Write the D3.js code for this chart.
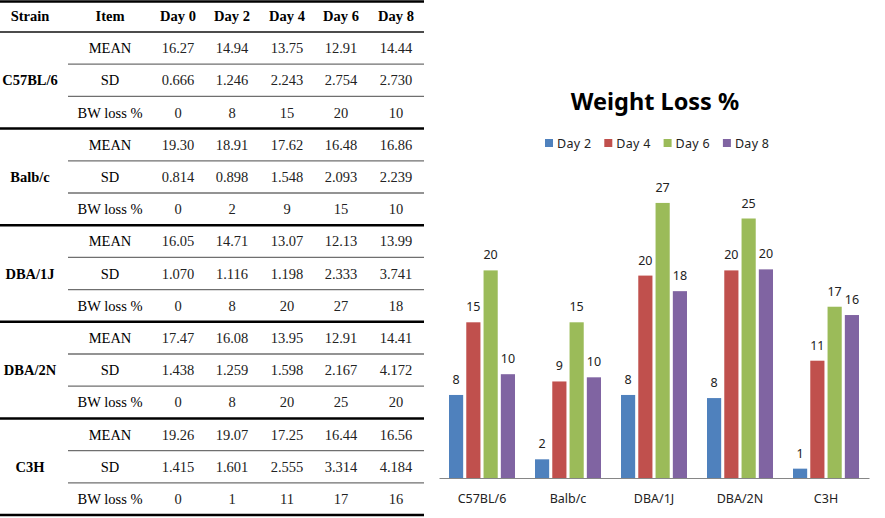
<!DOCTYPE html>
<html><head><meta charset="utf-8">
<script src="https://cdn.jsdelivr.net/npm/d3@7"></script>
<style>body{margin:0;background:#fff}svg{display:block}</style>
</head><body>
<svg id="c" width="885" height="518"></svg>
<script>
// ---------- data ----------
const strains = ["C57BL/6", "Balb/c", "DBA/1J", "DBA/2N", "C3H"];
const tableDays = ["Day 0", "Day 2", "Day 4", "Day 6", "Day 8"];
const items = ["MEAN", "SD", "BW loss %"];
const meanVals = [
  ["16.27","14.94","13.75","12.91","14.44"],
  ["19.30","18.91","17.62","16.48","16.86"],
  ["16.05","14.71","13.07","12.13","13.99"],
  ["17.47","16.08","13.95","12.91","14.41"],
  ["19.26","19.07","17.25","16.44","16.56"]
];
const sdVals = [
  ["0.666","1.246","2.243","2.754","2.730"],
  ["0.814","0.898","1.548","2.093","2.239"],
  ["1.070","1.116","1.198","2.333","3.741"],
  ["1.438","1.259","1.598","2.167","4.172"],
  ["1.415","1.601","2.555","3.314","4.184"]
];
const lossVals = [
  ["0","8","15","20","10"],
  ["0","2","9","15","10"],
  ["0","8","20","27","18"],
  ["0","8","20","25","20"],
  ["0","1","11","17","16"]
];
const series = ["Day 2", "Day 4", "Day 6", "Day 8"];
const day2 = [8.0, 1.8, 8.0, 7.7, 0.9];
const day4 = [15.0, 9.3, 19.5, 20.0, 11.3];
const day6 = [20.0, 15.0, 26.5, 25.0, 16.5];
const day8 = [10.0, 9.7, 18.0, 20.1, 15.7];
const chartTitle = "Weight Loss %";

const colors = ["#4F81BD", "#C0504D", "#9BBB59", "#8064A2"];

const svg = d3.select("#c");

// ---------- table ----------
const serif = "'Liberation Serif','Times New Roman',serif";
const tbl = svg.append("g");
const colX = d3.scaleOrdinal().domain(["Strain","Item"].concat(tableDays)).range([30,110,178,232,287,341,396]);
const tableRight = 424, itemLeft = 68, headerH = 32, rowH = 32.2;
const rowY = i => headerH + i * rowH; // top of row i

tbl.selectAll("text.h").data(["Strain","Item"].concat(tableDays)).join("text")
  .attr("x", d => colX(d)).attr("y", 21).attr("text-anchor","middle")
  .style("font-family", serif).style("font-weight","bold").style("font-size","14.5px").text(d => d);

const rows = [];
strains.forEach((s, si) => {
  [meanVals[si], sdVals[si], lossVals[si]].forEach((vals, ii) => {
    rows.push({s, si, item: items[ii], ii, vals, r: si*3+ii});
  });
});
const rg = tbl.selectAll("g.row").data(rows).join("g")
  .attr("transform", d => `translate(0,${rowY(d.r) + rowH/2 + 5})`);
rg.append("text").attr("x", colX("Item")).attr("text-anchor","middle")
  .style("font-family", serif).style("font-size","14.5px").text(d => d.item);
rg.selectAll("text.v").data(d => d.vals).join("text").attr("class","v")
  .attr("x", (d,i) => colX(tableDays[i])).attr("text-anchor","middle")
  .style("font-family", serif).style("font-size","14.5px").style("fill","#222").text(d => d);

tbl.selectAll("text.s").data(strains).join("text").attr("class","s")
  .attr("x", colX("Strain")).attr("y", (d,i) => rowY(i*3+1) + rowH/2 + 5)
  .attr("text-anchor","middle").style("font-family", serif).style("font-weight","bold")
  .style("font-size","14.5px").text(d => d);

// thin separators
rows.filter(d => d.ii < 2).forEach(d => {
  tbl.append("line").attr("x1", itemLeft).attr("x2", tableRight)
    .attr("y1", rowY(d.r+1)).attr("y2", rowY(d.r+1)).attr("stroke","#6f6f6f").attr("stroke-width",1.3);
});
// header bottom
tbl.append("line").attr("x1",0).attr("x2",tableRight).attr("y1",headerH).attr("y2",headerH)
  .attr("stroke","#111").attr("stroke-width",1.3);
// thick lines
[0].concat(strains.map((s,i) => rowY((i+1)*3))).forEach(y => {
  tbl.append("line").attr("x1",0).attr("x2",tableRight).attr("y1",Math.max(y,1.5)).attr("y2",Math.max(y,1.5))
    .attr("stroke","#000").attr("stroke-width",2.5);
});

// ---------- chart ----------
const sans = "'Noto Sans','Open Sans',sans-serif";
const values = [day2, day4, day6, day8];
const baseY = 478;
const x0 = d3.scaleBand().domain(strains).range([439, 869]);
const x1 = d3.scaleBand().domain(series).range([10, 76]).paddingInner(0.18);
const y = d3.scaleLinear().domain([0, 30]).range([baseY, baseY - 311.4]);
const fmt = d3.format(".0f");

const ch = svg.append("g");
ch.append("text").attr("x", 655).attr("y", 110).attr("text-anchor","middle")
  .style("font-family", sans).style("font-weight","bold").style("font-size","23.5px").style("fill","#000")
  .text(chartTitle);

// legend
const lg = ch.selectAll("g.lg").data(series).join("g")
  .attr("transform", (d,i) => `translate(${545 + i*59.3},143)`);
lg.append("rect").attr("x",0).attr("y",-4).attr("width",8).attr("height",8).attr("fill",(d,i)=>colors[i]);
lg.append("text").attr("x",12).attr("y",4.5).style("font-family",sans).style("font-size","12.5px")
  .style("letter-spacing","0.3px").style("fill","#222").text(d => d);

const groups = ch.selectAll("g.grp").data(strains).join("g")
  .attr("transform", d => `translate(${x0(d)},0)`);
groups.each(function(s, si) {
  const g = d3.select(this);
  const pts = series.map((se, k) => ({se, k, v: values[k][si]}));
  g.selectAll("rect").data(pts).join("rect")
    .attr("x", d => x1(d.se)).attr("width", x1.bandwidth())
    .attr("y", d => y(d.v)).attr("height", d => baseY - y(d.v)).attr("fill", d => colors[d.k]);
  g.selectAll("text").data(pts).join("text")
    .attr("x", d => x1(d.se) + x1.bandwidth()/2).attr("y", d => y(d.v) - 11)
    .attr("text-anchor","middle").style("font-family",sans).style("font-size","12.5px").style("fill","#222")
    .text(d => fmt(d.v));
});

const xAxis = ch.append("g").attr("transform", `translate(0,${baseY})`)
  .call(d3.axisBottom(x0).tickSize(0).tickPadding(16));
xAxis.select(".domain").attr("stroke","#868686");
xAxis.selectAll("text").style("font-family",sans).style("font-size","12.5px").style("fill","#222");
</script>
</body></html>
